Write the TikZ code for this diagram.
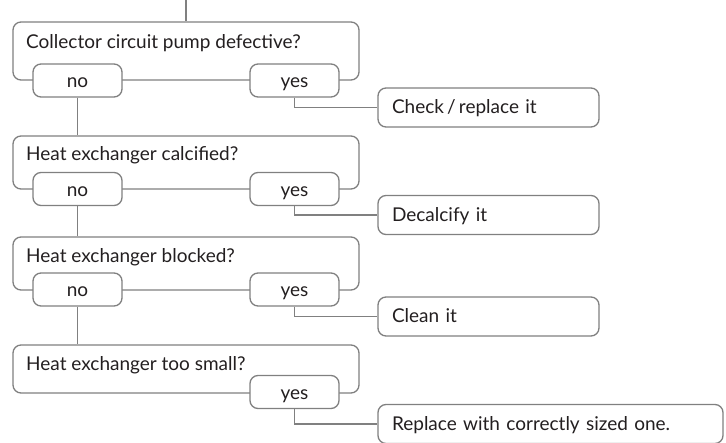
\documentclass[tikz,border=0pt]{standalone}
\usepackage{fontspec}
\setmainfont{Lato}
\definecolor{linec}{HTML}{808080}
\definecolor{txtc}{HTML}{231F20}
\begin{document}
\begin{tikzpicture}[x=1pt,y=-1pt,
  font=\fontsize{19}{22}\selectfont, text=txtc,
  conn/.style={draw=linec, line width=1.3pt},
  qbox/.style={draw=linec, line width=1.3pt, rounded corners=8pt, minimum width=346pt, inner sep=0pt},
  qtext/.style={anchor=base west, inner sep=0pt},
  ansbox/.style={draw=linec, line width=1.3pt, fill=white, rounded corners=8pt, minimum width=89pt, minimum height=33pt, inner sep=0pt, text height=15pt, text depth=0pt},
  actbox/.style={draw=linec, line width=1.3pt, fill=white, rounded corners=8pt, minimum height=39pt, inner xsep=14pt, inner ysep=0pt, align=left, text height=13pt, text depth=0pt}
]
\useasboundingbox (0,0) rectangle (726,443);
% question boxes
\node[qbox, minimum height=58pt] (q1) at (186,51) {};
\node[qbox, minimum height=53pt] (q2) at (186,162.5) {};
\node[qbox, minimum height=53pt] (q3) at (186,263.5) {};
\node[qbox, minimum height=48pt] (q4) at (186,369) {};
\node[qtext] (q1t) at (26,49) {Collector circuit pump defective?};
\node[qtext] (q2t) at (26,161) {Heat exchanger calcified?};
\node[qtext] (q3t) at (26,263) {Heat exchanger blocked?};
\node[qtext] (q4t) at (26,371) {Heat exchanger too small?};
% answer boxes
\node[ansbox] (no1) at (77.5,80.5) {no};
\node[ansbox] (yes1) at (294.5,80.5) {yes};
\node[ansbox] (no2) at (77.5,189) {no};
\node[ansbox] (yes2) at (294.5,189) {yes};
\node[ansbox] (no3) at (77.5,289.5) {no};
\node[ansbox] (yes3) at (294.5,289.5) {yes};
\node[ansbox] (yes4) at (294.5,392) {yes};
% action boxes
\node[actbox, text width=193pt] (a1) at (488.5,107.5) {Check\,/\,replace it};
\node[actbox, text width=193pt] (a2) at (488.5,215) {Decalcify it};
\node[actbox, text width=193pt] (a3) at (488.5,316.5) {Clean it};
\node[actbox, text width=317pt] (a4) at (550.5,424) {Replace with correctly sized one.};
% connectors
\coordinate (top) at (186,0);
\draw[conn] (top) -- (q1.north);
\draw[conn] (no1.south) -- (no1.south |- q2.north);
\draw[conn] (no2.south) -- (no2.south |- q3.north);
\draw[conn] (no3.south) -- (no3.south |- q4.north);
\draw[conn] (yes1.south) |- (a1.west);
\draw[conn] (yes2.south) |- (a2.west);
\draw[conn] (yes3.south) |- (a3.west);
\draw[conn] (yes4.south) |- (a4.west);
\end{tikzpicture}
\end{document}
